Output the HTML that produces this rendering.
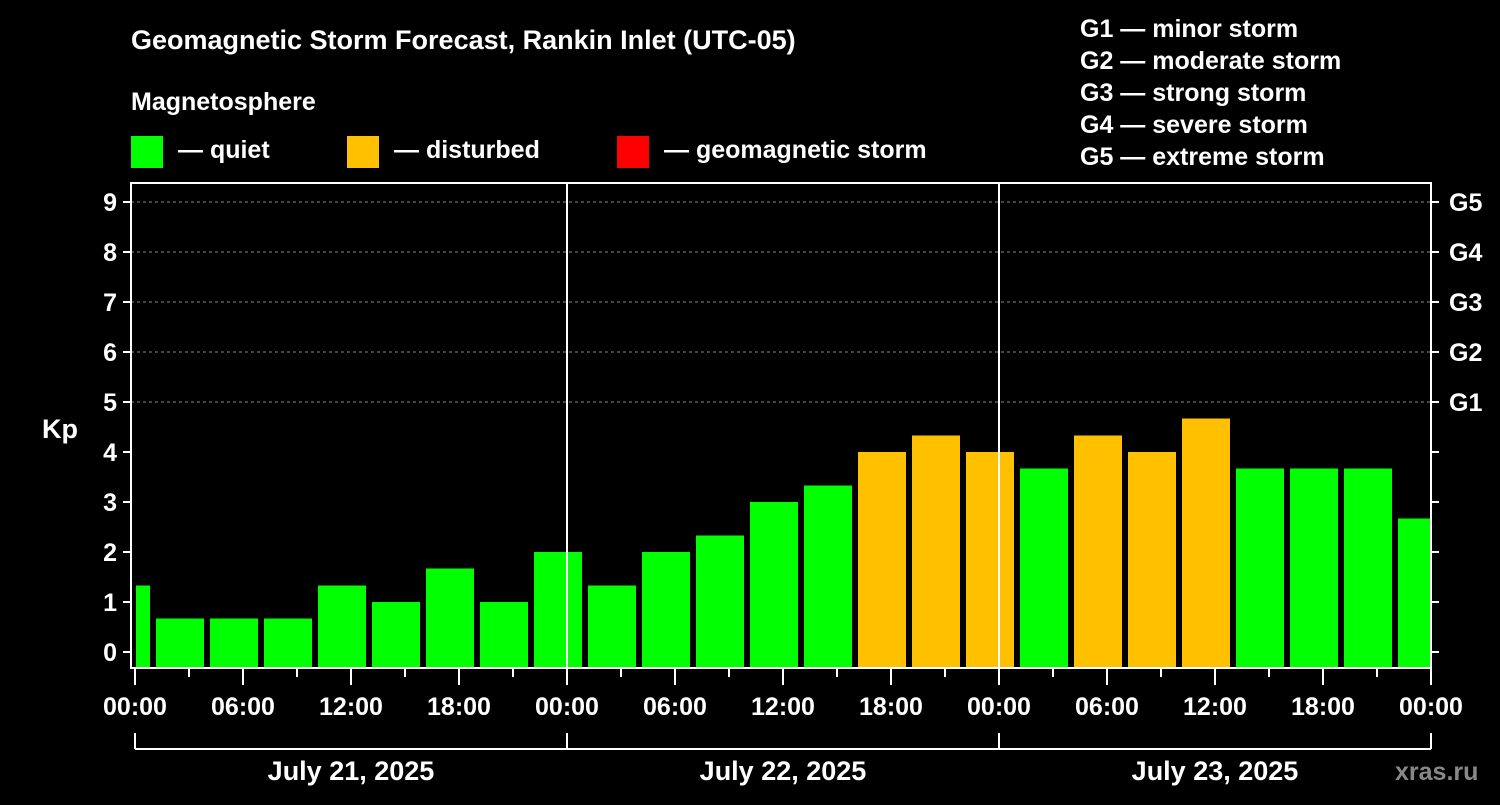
<!DOCTYPE html>
<html><head><meta charset="utf-8"><style>
body{margin:0;background:#000;width:1500px;height:800px;overflow:hidden;font-family:"Liberation Sans",sans-serif}
svg text{font-family:"Liberation Sans",sans-serif;font-weight:bold;fill:#fff}
</style></head><body>
<svg id="chart" width="1500" height="800">
<text x="131" y="49" font-size="27">Geomagnetic Storm Forecast, Rankin Inlet (UTC-05)</text>
<text x="131" y="110" font-size="25">Magnetosphere</text>
<rect x="131" y="136" width="32" height="32" fill="#00ff00"/>
<text x="178" y="158" font-size="25">— quiet</text>
<rect x="347" y="136" width="32" height="32" fill="#ffc000"/>
<text x="394" y="158" font-size="25">— disturbed</text>
<rect x="617" y="136" width="32" height="32" fill="#ff0000"/>
<text x="664" y="158" font-size="25">— geomagnetic storm</text>
<g font-size="25">
<text x="1080" y="37">G1 — minor storm</text>
<text x="1080" y="69">G2 — moderate storm</text>
<text x="1080" y="101">G3 — strong storm</text>
<text x="1080" y="133">G4 — severe storm</text>
<text x="1080" y="165">G5 — extreme storm</text>
</g>
<text x="42" y="438" font-size="27">Kp</text>
<text x="1395" y="780" font-size="25" fill="#888" style="fill:#888">xras.ru</text>
<g id="plot"></g>
</svg>
<script>
const kpValues=[1.33,0.67,0.67,0.67,1.33,1,1.67,1,2,1.33,2,2.33,3,3.33,4,4.33,4,3.67,4.33,4,4.67,3.67,3.67,3.67,2.67];
const barStartHours=[-2,1,4,7,10,13,16,19,22,25,28,31,34,37,40,43,46,49,52,55,58,61,64,67,70];
const dayLabels=["July 21, 2025","July 22, 2025","July 23, 2025"];
const hourLabels=["00:00","06:00","12:00","18:00"];
const gLabels=["G1","G2","G3","G4","G5"];
const NS="http://www.w3.org/2000/svg";
const g=document.getElementById('plot');
const X0=135,PX_H=18,Y0=652,PX_K=50,LEFT=131,RIGHT=1431,TOP=183,BOT=668;
const xs=h=>X0+h*PX_H, ys=k=>Y0-k*PX_K;
function mk(t,a){const e=document.createElementNS(NS,t);for(const k in a)e.setAttribute(k,a[k]);g.appendChild(e);return e;}
// grid dashed lines at 5..9
for(let k=5;k<=9;k++){const l=mk('line',{x1:LEFT,x2:RIGHT,y1:ys(k),y2:ys(k),stroke:'#888','stroke-dasharray':'3,3','stroke-width':1});

}
// bars
kpValues.forEach((v,i)=>{
 const c=xs(barStartHours[i]+1.5);
 let x1=Math.max(c-24,LEFT+5),x2=Math.min(c+24,RIGHT-1);
 const r=mk('rect',{x:x1,y:ys(v),width:x2-x1,height:BOT-ys(v),fill:v>=4?'#ffc000':'#00ff00'});
 
 
});
// day separators
for(let d=1;d<=2;d++){const l=mk('line',{x1:xs(24*d),x2:xs(24*d),y1:TOP,y2:BOT,stroke:'#fff','stroke-width':2});

}
// frame
const f=mk('rect',{x:LEFT,y:TOP,width:RIGHT-LEFT,height:BOT-TOP,fill:'none',stroke:'#fff','stroke-width':2});


// y ticks and labels
for(let k=0;k<=9;k++){
 mk('line',{x1:LEFT-8,x2:LEFT,y1:ys(k),y2:ys(k),stroke:'#fff','stroke-width':2});
 mk('line',{x1:RIGHT,x2:RIGHT+8,y1:ys(k),y2:ys(k),stroke:'#fff','stroke-width':2});
 const t=mk('text',{x:LEFT-14,y:ys(k)+9,'text-anchor':'end','font-size':25});t.textContent=k;
 
 
 if(k>=5){const r=mk('text',{x:1449,y:ys(k)+9,'font-size':25});r.textContent=gLabels[k-5];
 
 }
}
// x ticks
for(let h=0;h<=72;h+=3){
 const major=h%6===0;
 mk('line',{x1:xs(h),x2:xs(h),y1:BOT,y2:BOT+(major?17:9),stroke:'#fff','stroke-width':2});
 if(major){const t=mk('text',{x:xs(h),y:715,'text-anchor':'middle','font-size':25});t.textContent=hourLabels[(h%24)/6];
 
 }
}
// date bracket
mk('line',{x1:xs(0),x2:xs(72),y1:749,y2:749,stroke:'#fff','stroke-width':2});
for(let d=0;d<=3;d++)mk('line',{x1:xs(24*d),x2:xs(24*d),y1:733,y2:749,stroke:'#fff','stroke-width':2});
dayLabels.forEach((s,d)=>{const t=mk('text',{x:xs(24*d+12),y:780,'text-anchor':'middle','font-size':27});t.textContent=s;
 
 });
</script>
</body></html>
